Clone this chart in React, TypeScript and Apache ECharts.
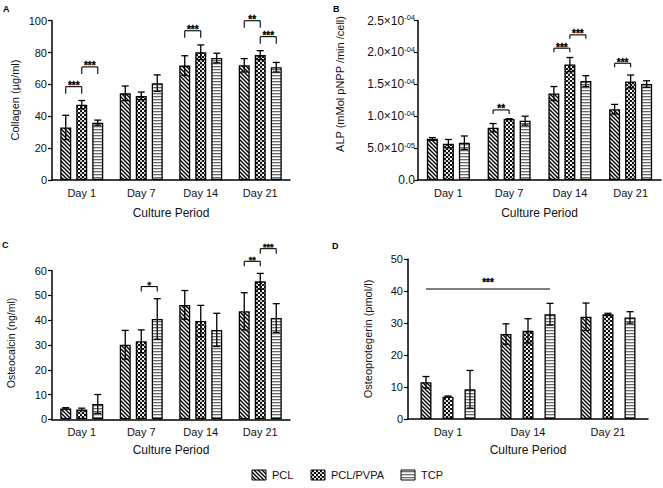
import React, { useEffect, useRef } from 'react';
import * as echarts from 'echarts';

// ---------- data ----------
const daysABC = ['Day 1', 'Day 7', 'Day 14', 'Day 21'];
const daysD = ['Day 1', 'Day 14', 'Day 21'];
const groupNames = ['PCL', 'PCL/PVPA', 'TCP'];

// A: Collagen (µg/ml)
const collagenPCL = [33.0, 54.4, 71.8, 72.0];
const collagenPCLErr = [7.6, 4.6, 6.2, 4.2];
const collagenPVPA = [47.3, 52.8, 80.2, 78.4];
const collagenPVPAErr = [2.6, 2.4, 4.6, 2.8];
const collagenTCP = [36.0, 60.8, 76.6, 70.8];
const collagenTCPErr = [1.6, 5.2, 3.0, 3.0];
// brackets: [day1, bar1, day2, bar2, y]
const collagenBrackets = [[0, 0, 0, 1, 58.6], [0, 1, 0, 2, 71], [2, 0, 2, 1, 93.7], [3, 0, 3, 1, 100], [3, 1, 3, 2, 90]];
const collagenStars = ['***', '***', '***', '**', '***'];

// B: ALP (mMol pNPP /min /cell)
const alpPCL = [6.45e-5, 8.2e-5, 1.355e-4, 1.11e-4];
const alpPCLErr = [0.2e-5, 0.65e-5, 1.1e-5, 0.75e-5];
const alpPVPA = [5.7e-5, 9.55e-5, 1.81e-4, 1.545e-4];
const alpPVPAErr = [0.65e-5, 0.05e-5, 1.1e-5, 1.0e-5];
const alpTCP = [5.85e-5, 9.3e-5, 1.55e-4, 1.505e-4];
const alpTCPErr = [1.05e-5, 0.7e-5, 0.85e-5, 0.5e-5];
const alpBrackets = [[1, 0, 1, 1, 1.098e-4], [2, 0, 2, 1, 2.066e-4], [2, 1, 2, 2, 2.275e-4], [3, 0, 3, 1, 1.83e-4]];
const alpStars = ['**', '***', '***', '***'];

// C: Osteocalcin (ng/ml)
const ocPCL = [4.4, 30.1, 46.2, 43.6];
const ocPCLErr = [0.3, 5.8, 5.8, 7.5];
const ocPVPA = [4.0, 31.5, 39.7, 55.7];
const ocPVPAErr = [0.5, 4.6, 6.3, 3.2];
const ocTCP = [6.2, 40.5, 36.1, 40.9];
const ocTCPErr = [3.8, 8.2, 6.7, 5.8];
const ocBrackets = [[1, 1, 1, 2, 53.6], [3, 0, 3, 1, 63.8], [3, 1, 3, 2, 68.9]];
const ocStars = ['*', '**', '***'];

// D: Osteoprotegerin (pmol/l)
const opgPCL = [11.5, 26.6, 32.0];
const opgPCLErr = [1.8, 3.2, 4.3];
const opgPVPA = [7.0, 27.6, 32.8];
const opgPVPAErr = [0.2, 3.8, 0.3];
const opgTCP = [9.3, 32.8, 31.8];
const opgTCPErr = [5.9, 3.4, 1.8];
const opgBrackets = [[0, 0, 1, 2, 40.7]];
const opgStars = ['***'];

const FONT = 'Liberation Sans, Arial, Helvetica, sans-serif';

function makePattern(w: number, h: number, draw: (ctx: CanvasRenderingContext2D) => void) {
  const c = document.createElement('canvas');
  c.width = w;
  c.height = h;
  const ctx = c.getContext('2d') as CanvasRenderingContext2D;
  draw(ctx);
  return { image: c.toDataURL(), repeat: 'repeat', imageWidth: w, imageHeight: h } as any;
}

function buildPatterns() {
  const diag = makePattern(4, 4, (ctx) => {
    ctx.fillStyle = '#fff';
    ctx.fillRect(0, 0, 4, 4);
    ctx.strokeStyle = '#000';
    ctx.lineWidth = 1.4;
    ctx.beginPath();
    ctx.moveTo(-1, -1); ctx.lineTo(5, 5);
    ctx.moveTo(-1, 3); ctx.lineTo(1, 5);
    ctx.moveTo(3, -1); ctx.lineTo(5, 1);
    ctx.stroke();
  });
  const check = makePattern(4, 4, (ctx) => {
    ctx.fillStyle = '#111';
    ctx.fillRect(0, 0, 4, 4);
    ctx.fillStyle = '#fff';
    ctx.fillRect(0, 0, 2, 2);
    ctx.fillRect(2, 2, 2, 2);
    ctx.fillStyle = '#111';
    ctx.fillRect(0.5, 0.5, 1, 1);
  });
  const horiz = makePattern(4, 3, (ctx) => {
    ctx.fillStyle = '#fff';
    ctx.fillRect(0, 0, 4, 3);
    ctx.fillStyle = '#6a6a6a';
    ctx.fillRect(0, 0, 4, 1.3);
  });
  return [diag, check, horiz];
}

type Panel = {
  grid: { left: number; top: number; width: number; height: number };
  cats: string[];
  means: number[][];
  errs: number[][];
  min: number; max: number; interval: number;
  barWidth: number; step: number;
  brackets: number[][]; stars: string[]; tick: number; starFont: number; starLift: number;
  labelFormatter?: any; labelRich?: any; labelMargin: number; labelFont: number;
  nameGap: number;
};

export default function App() {
  const ref = useRef<HTMLDivElement>(null);

  useEffect(() => {
    if (!ref.current) return;
    const chart = echarts.init(ref.current, null, { renderer: 'svg' });
    const patterns = buildPatterns();

    const sciFormatter = (v: number) => {
      if (v === 0) return '{m|0.0}';
      const [m, e] = v.toExponential(1).split('e');
      const ex = parseInt(e, 10);
      const es = (ex < 0 ? '-' : '+') + String(Math.abs(ex)).padStart(2, '0');
      return `{m|${m}×10}{s|${es}}`;
    };

    const panels: Panel[] = [
      {
        grid: { left: 52, top: 20.7, width: 238, height: 159.3 },
        cats: daysABC,
        means: [collagenPCL, collagenPVPA, collagenTCP],
        errs: [collagenPCLErr, collagenPVPAErr, collagenTCPErr],
        min: 0, max: 100, interval: 20,
        barWidth: 11, step: 16,
        brackets: collagenBrackets, stars: collagenStars, tick: 7, starFont: 10, starLift: -4,
        labelMargin: 5, labelFont: 11, nameGap: 27,
      },
      {
        grid: { left: 418, top: 20.5, width: 243, height: 159.5 },
        cats: daysABC,
        means: [alpPCL, alpPVPA, alpTCP],
        errs: [alpPCLErr, alpPVPAErr, alpTCPErr],
        min: 0, max: 2.5e-4, interval: 5e-5,
        barWidth: 11, step: 16,
        brackets: alpBrackets, stars: alpStars, tick: 4, starFont: 10, starLift: -4,
        labelFormatter: sciFormatter,
        labelRich: {
          m: { fontSize: 12, fontFamily: FONT, color: '#111', lineHeight: 14 },
          s: { fontSize: 7.5, fontFamily: FONT, color: '#111', verticalAlign: 'top', lineHeight: 14 },
        },
        labelMargin: 3, labelFont: 12, nameGap: 27,
      },
      {
        grid: { left: 52, top: 270.7, width: 238, height: 148.6 },
        cats: daysABC,
        means: [ocPCL, ocPVPA, ocTCP],
        errs: [ocPCLErr, ocPVPAErr, ocTCPErr],
        min: 0, max: 60, interval: 10,
        barWidth: 11, step: 16,
        brackets: ocBrackets, stars: ocStars, tick: 5, starFont: 9, starLift: -3,
        labelMargin: 5, labelFont: 11, nameGap: 25,
      },
      {
        grid: { left: 408, top: 259.3, width: 240, height: 159.7 },
        cats: daysD,
        means: [opgPCL, opgPVPA, opgTCP],
        errs: [opgPCLErr, opgPVPAErr, opgTCPErr],
        min: 0, max: 50, interval: 10,
        barWidth: 11, step: 22,
        brackets: opgBrackets, stars: opgStars, tick: 0, starFont: 10, starLift: 2,
        labelMargin: 5, labelFont: 11, nameGap: 25,
      },
    ];

    const grids: any[] = [];
    const xAxes: any[] = [];
    const yAxes: any[] = [];
    const series: any[] = [];

    panels.forEach((p, pi) => {
      grids.push({ ...p.grid, containLabel: false });
      xAxes.push({
        type: 'category',
        gridIndex: pi,
        data: p.cats,
        name: 'Culture Period',
        nameLocation: 'middle',
        nameGap: p.nameGap,
        nameTextStyle: { fontSize: 12, fontFamily: FONT, color: '#111' },
        axisLine: { lineStyle: { color: '#000', width: 1.5 } },
        axisTick: { alignWithLabel: true, length: 4, lineStyle: { color: '#000', width: 1.2 } },
        axisLabel: { fontSize: 11, fontFamily: FONT, color: '#111', margin: 7 },
        splitLine: { show: false },
      });
      yAxes.push({
        type: 'value',
        gridIndex: pi,
        min: p.min,
        max: p.max,
        interval: p.interval,
        axisLine: { show: true, lineStyle: { color: '#000', width: 1.5 } },
        axisTick: { show: true, length: 4, lineStyle: { color: '#000', width: 1.2 } },
        axisLabel: {
          fontSize: p.labelFont,
          fontFamily: FONT,
          color: '#111',
          margin: p.labelMargin,
          formatter: p.labelFormatter,
          rich: p.labelRich,
        },
        splitLine: { show: false },
      });

      const gap = ((p.step - p.barWidth) / p.barWidth) * 100 + '%';
      p.means.forEach((vals, si) => {
        series.push({
          type: 'bar',
          name: groupNames[si],
          xAxisIndex: pi,
          yAxisIndex: pi,
          data: vals,
          barWidth: p.barWidth,
          barGap: gap,
          itemStyle: { color: patterns[si], borderColor: '#000', borderWidth: 1.3 },
          emphasis: { disabled: true },
        });
      });
      p.means.forEach((vals, si) => {
        const errData = vals.map((v, i) => [i, v, p.errs[si][i]]);
        const offset = (si - 1) * p.step;
        series.push({
          type: 'custom',
          xAxisIndex: pi,
          yAxisIndex: pi,
          data: errData,
          encode: { x: 0, y: 1 },
          clip: false,
          z: 5,
          silent: true,
          itemStyle: { color: '#000' },
          renderItem: (params: any, api: any) => {
            const c = api.value(0);
            const v = api.value(1);
            const e = api.value(2);
            const top = api.coord([c, v + e]);
            const bot = api.coord([c, v - e]);
            const x = top[0] + offset;
            const st = { stroke: '#000', lineWidth: 1.3 };
            return {
              type: 'group',
              children: [
                { type: 'line', shape: { x1: x, y1: top[1], x2: x, y2: bot[1] }, style: st },
                { type: 'line', shape: { x1: x - 3.5, y1: top[1], x2: x + 3.5, y2: top[1] }, style: st },
                { type: 'line', shape: { x1: x - 3.5, y1: bot[1], x2: x + 3.5, y2: bot[1] }, style: st },
              ],
            };
          },
        });
      });
      series.push({
        type: 'custom',
        xAxisIndex: pi,
        yAxisIndex: pi,
        data: p.brackets,
        encode: { x: 0, y: 4 },
        clip: false,
        z: 6,
        silent: true,
        itemStyle: { color: '#000' },
        renderItem: (params: any, api: any) => {
          const c1 = api.value(0), b1 = api.value(1), c2 = api.value(2), b2 = api.value(3), y = api.value(4);
          const p1 = api.coord([c1, y]);
          const p2 = api.coord([c2, y]);
          const x1 = p1[0] + (b1 - 1) * p.step;
          const x2 = p2[0] + (b2 - 1) * p.step;
          const yy = p1[1];
          const st = { stroke: '#000', lineWidth: 1.1 };
          const children: any[] = [
            { type: 'line', shape: { x1, y1: yy, x2, y2: yy }, style: st },
            {
              type: 'text',
              x: (x1 + x2) / 2,
              y: yy - p.starLift,
              style: {
                text: p.stars[params.dataIndex],
                x: 0,
                y: 0,
                align: 'center',
                verticalAlign: 'bottom',
                fontSize: p.starFont,
                fontWeight: 'bold',
                fontFamily: FONT,
                fill: '#000000',
                stroke: '#000000',
                lineWidth: 0.3,
              },
            },
          ];
          if (p.tick > 0) {
            children.push({ type: 'line', shape: { x1, y1: yy, x2: x1, y2: yy + p.tick }, style: st });
            children.push({ type: 'line', shape: { x1: x2, y1: yy, x2, y2: yy + p.tick }, style: st });
          }
          return { type: 'group', children };
        },
      });
    });

    const yNames = [
      { text: 'Collagen (µg/ml)', x: 15, y: 100, size: 11 },
      { text: 'ALP (mMol pNPP /min /cell)', x: 340, y: 84, size: 11 },
      { text: 'Osteocalcin (ng/ml)', x: 11, y: 343, size: 10.5 },
      { text: 'Osteoprotegerin (pmol/l)', x: 368, y: 339, size: 11 },
    ];
    const letters = [
      { text: 'A', x: 3, y: 4 },
      { text: 'B', x: 333, y: 4 },
      { text: 'C', x: 2, y: 240 },
      { text: 'D', x: 332, y: 241 },
    ];
    const legendItems = [
      { x: 252, tx: 272 },
      { x: 311, tx: 331 },
      { x: 401, tx: 421 },
    ];

    const graphic: any[] = [];
    yNames.forEach((n) => {
      graphic.push({
        type: 'text',
        x: n.x,
        y: n.y,
        rotation: Math.PI / 2,
        style: { text: n.text, align: 'center', verticalAlign: 'middle', fontSize: n.size, fontFamily: FONT, fill: '#111' },
        silent: true,
      });
    });
    letters.forEach((l) => {
      graphic.push({
        type: 'text',
        x: l.x,
        y: l.y,
        style: { text: l.text, align: 'left', verticalAlign: 'top', fontSize: 9, fontWeight: 'bold', fontFamily: FONT, fill: '#000' },
        silent: true,
      });
    });
    legendItems.forEach((li, i) => {
      graphic.push({
        type: 'rect',
        shape: { x: li.x, y: 470, width: 14, height: 10 },
        style: { fill: patterns[i], stroke: '#000', lineWidth: 1 },
        silent: true,
      });
      graphic.push({
        type: 'text',
        x: li.tx,
        y: 475,
        style: { text: groupNames[i], align: 'left', verticalAlign: 'middle', fontSize: 11, fontFamily: FONT, fill: '#111' },
        silent: true,
      });
    });

    chart.setOption({
      animation: false,
      backgroundColor: '#fff',
      grid: grids,
      xAxis: xAxes,
      yAxis: yAxes,
      series,
      graphic,
    });

    return () => chart.dispose();
  }, []);

  return <div ref={ref} style={{ width: 663, height: 488, position: 'absolute', left: 0, top: 0 }} />;
}
